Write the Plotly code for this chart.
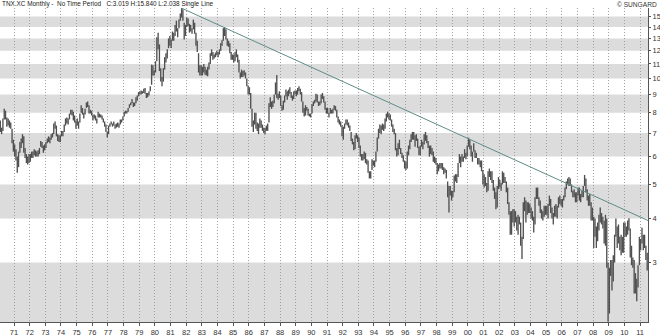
import math
import plotly.graph_objects as go

# ---------------- data (TNX.XC monthly high/low bars, Feb 1970 - Jun 2011) ----------------
start_year = 1970
start_month = 2

bar_low = [
    7.05, 6.95, 7.10, 7.65, 7.65, 7.30, 7.35, 7.25, 7.20, 6.55, 6.20,             # 1970 (Feb-Dec)
    6.00, 5.85, 5.40, 5.60, 6.15, 6.35, 6.55, 6.15, 5.95, 5.75, 5.70, 5.75,       # 1971
    5.80, 5.95, 5.95, 6.05, 6.00, 6.00, 6.00, 6.10, 6.40, 6.35, 6.15, 6.25,       # 1972
    6.35, 6.55, 6.60, 6.55, 6.70, 6.80, 6.95, 7.20, 6.85, 6.65, 6.60, 6.60,       # 1973
    6.85, 6.85, 7.05, 7.35, 7.45, 7.40, 7.65, 7.90, 7.85, 7.60, 7.50, 7.20,       # 1974
    7.35, 7.20, 7.50, 8.00, 7.90, 7.70, 7.90, 8.25, 8.30, 7.95, 7.95, 7.85,       # 1975
    7.60, 7.70, 7.60, 7.45, 7.75, 7.75, 7.75, 7.65, 7.50, 7.30, 7.05, 6.80,       # 1976
    6.95, 7.30, 7.40, 7.30, 7.35, 7.20, 7.25, 7.30, 7.25, 7.40, 7.50, 7.60,       # 1977
    7.80, 7.95, 7.95, 8.05, 8.25, 8.40, 8.50, 8.30, 8.35, 8.50, 8.65, 8.90,       # 1978
    9.00, 9.00, 9.05, 9.10, 9.05, 8.80, 8.85, 8.95, 9.20, 9.60, 10.20, 10.20,     # 1979
    10.40, 11.20, 12.10, 10.50, 9.80, 9.50, 9.80, 10.60, 11.10, 11.40, 12.20, 12.40,   # 1980
    12.20, 12.80, 12.80, 13.20, 13.60, 13.10, 13.90, 14.60, 14.90, 14.60, 12.90, 13.20, # 1981
    14.00, 14.10, 13.50, 13.60, 13.40, 13.80, 13.40, 12.40, 11.90, 10.40, 10.20, 10.20, # 1982
    10.20, 10.40, 10.25, 10.20, 10.15, 10.60, 11.00, 11.60, 11.30, 11.40, 11.50, 11.65, # 1983
    11.50, 11.70, 12.00, 12.40, 12.80, 13.20, 12.90, 12.40, 12.30, 11.80, 11.30, 11.30, # 1984
    11.10, 11.20, 11.50, 11.10, 10.40, 10.00, 10.10, 10.10, 10.20, 10.00, 9.50, 9.00,   # 1985
    9.00, 8.20, 7.30, 7.05, 7.40, 7.20, 7.10, 6.95, 7.25, 7.25, 7.10, 7.00,       # 1986
    6.95, 7.10, 7.10, 7.50, 8.30, 8.20, 8.30, 8.50, 9.00, 8.80, 8.70, 8.80,       # 1987
    8.35, 8.10, 8.15, 8.55, 8.90, 8.70, 8.90, 9.05, 8.80, 8.65, 8.75, 9.00,       # 1988
    8.90, 9.00, 9.20, 9.00, 8.60, 8.00, 7.80, 7.85, 8.10, 7.85, 7.80, 7.75,       # 1989
    7.95, 8.35, 8.50, 8.60, 8.55, 8.35, 8.40, 8.50, 8.75, 8.55, 8.15, 7.95,       # 1990
    7.95, 7.75, 7.95, 7.95, 7.95, 8.15, 8.10, 7.75, 7.50, 7.40, 7.30, 6.85,       # 1991
    6.70, 7.20, 7.40, 7.35, 7.25, 7.10, 6.65, 6.50, 6.25, 6.30, 6.75, 6.60,       # 1992
    6.35, 6.00, 5.85, 5.85, 5.90, 5.75, 5.70, 5.40, 5.20, 5.20, 5.50, 5.65,       # 1993
    5.60, 5.80, 6.20, 6.75, 7.00, 6.95, 7.15, 7.10, 7.20, 7.55, 7.75, 7.65,       # 1994
    7.60, 7.30, 7.05, 6.95, 6.25, 6.00, 6.05, 6.30, 6.10, 5.95, 5.80, 5.55,       # 1995
    5.50, 5.55, 6.05, 6.30, 6.60, 6.70, 6.70, 6.40, 6.65, 6.35, 6.05, 6.05,       # 1996
    6.40, 6.30, 6.50, 6.65, 6.55, 6.35, 6.00, 6.10, 6.05, 5.80, 5.75, 5.70,       # 1997
    5.35, 5.45, 5.55, 5.55, 5.50, 5.35, 5.40, 5.20, 4.60, 4.16, 4.65, 4.50,       # 1998
    4.60, 4.75, 5.10, 5.05, 5.25, 5.75, 5.60, 5.80, 5.80, 5.95, 5.90, 6.00,       # 1999
    6.40, 6.30, 6.00, 5.80, 6.20, 5.95, 5.95, 5.70, 5.70, 5.60, 5.45, 5.00,       # 2000
    4.90, 4.95, 4.75, 4.80, 5.25, 5.15, 5.05, 4.80, 4.55, 4.25, 4.30, 4.85,       # 2001
    4.90, 4.80, 5.00, 5.05, 5.05, 4.75, 4.40, 4.10, 3.60, 3.60, 3.90, 3.80,       # 2002
    3.90, 3.70, 3.60, 3.85, 3.35, 3.07, 3.50, 4.20, 3.90, 4.10, 4.15, 4.15,       # 2003
    4.00, 3.95, 3.65, 3.85, 4.55, 4.55, 4.35, 4.15, 4.00, 3.95, 4.05, 4.10,       # 2004
    4.10, 4.00, 4.35, 4.15, 4.00, 3.85, 4.05, 4.05, 4.00, 4.30, 4.40, 4.35,       # 2005
    4.30, 4.50, 4.60, 4.85, 5.00, 4.95, 4.95, 4.75, 4.60, 4.60, 4.45, 4.45,       # 2006
    4.65, 4.50, 4.45, 4.60, 4.60, 4.95, 4.75, 4.50, 4.35, 4.35, 3.95, 3.95,       # 2007
    3.30, 3.55, 3.30, 3.45, 3.70, 3.90, 3.85, 3.75, 3.40, 3.35, 2.90, 2.038,      # 2008
    2.15, 2.75, 2.50, 2.65, 3.00, 3.55, 3.30, 3.40, 3.25, 3.15, 3.20, 3.20,       # 2009
    3.55, 3.55, 3.60, 3.70, 3.10, 2.95, 2.90, 2.45, 2.45, 2.33, 2.55, 2.95,       # 2010
    3.25, 3.40, 3.25, 3.30, 3.05, 2.85,                                           # 2011 (Jan-Jun)
]

bar_high = [
    7.60, 7.25, 7.70, 8.20, 8.10, 7.75, 7.70, 7.60, 7.50, 7.20, 6.70,             # 1970 (Feb-Dec)
    6.50, 6.30, 6.00, 6.20, 6.60, 6.75, 6.95, 6.85, 6.35, 6.10, 6.00, 6.10,       # 1971
    6.10, 6.20, 6.20, 6.30, 6.25, 6.20, 6.25, 6.35, 6.65, 6.60, 6.45, 6.50,       # 1972
    6.60, 6.75, 6.85, 6.80, 6.95, 7.00, 7.45, 7.55, 7.35, 6.95, 6.90, 6.90,       # 1973
    7.10, 7.10, 7.40, 7.70, 7.75, 7.70, 7.95, 8.15, 8.15, 8.05, 7.85, 7.60,       # 1974
    7.70, 7.55, 7.95, 8.40, 8.25, 8.00, 8.20, 8.55, 8.60, 8.40, 8.15, 8.10,       # 1975
    7.90, 7.90, 7.85, 7.70, 8.05, 7.95, 7.90, 7.85, 7.70, 7.55, 7.40, 7.05,       # 1976
    7.35, 7.45, 7.55, 7.45, 7.55, 7.40, 7.45, 7.50, 7.45, 7.65, 7.65, 7.80,       # 1977
    8.05, 8.10, 8.10, 8.25, 8.45, 8.55, 8.75, 8.55, 8.55, 8.85, 8.95, 9.15,       # 1978
    9.20, 9.25, 9.20, 9.35, 9.40, 9.10, 9.10, 9.20, 9.50, 10.95, 10.90, 10.55,    # 1979
    11.20, 13.10, 13.50, 12.50, 10.70, 10.10, 10.70, 11.50, 11.80, 12.10, 13.00, 13.20, # 1980
    12.90, 13.60, 13.50, 14.20, 14.60, 13.90, 14.70, 15.30, 15.84, 15.70, 14.40, 14.20, # 1981
    14.90, 14.80, 14.30, 14.20, 13.90, 14.70, 14.40, 13.50, 12.80, 11.80, 10.90, 10.90, # 1982
    10.80, 11.00, 10.80, 10.60, 10.80, 11.10, 11.80, 12.10, 11.90, 11.70, 11.85, 12.00, # 1983
    11.90, 12.10, 12.60, 12.85, 13.90, 13.99, 13.80, 13.00, 12.80, 12.60, 11.90, 11.70, # 1984
    11.70, 11.90, 12.10, 11.70, 11.30, 10.40, 10.60, 10.50, 10.55, 10.40, 10.00, 9.55,  # 1985
    9.45, 9.10, 8.20, 7.60, 8.00, 8.00, 7.50, 7.45, 7.70, 7.60, 7.40, 7.25,       # 1986
    7.25, 7.35, 7.45, 8.50, 8.85, 8.60, 8.65, 9.00, 9.75, 10.23, 9.05, 9.20,      # 1987
    8.95, 8.40, 8.65, 8.95, 9.30, 9.20, 9.30, 9.45, 9.15, 8.95, 9.20, 9.25,       # 1988
    9.25, 9.40, 9.50, 9.35, 9.15, 8.60, 8.25, 8.40, 8.30, 8.20, 7.95, 7.95,       # 1989
    8.45, 8.60, 8.70, 9.05, 9.00, 8.60, 8.60, 9.00, 9.10, 8.90, 8.60, 8.25,       # 1990
    8.25, 8.00, 8.25, 8.15, 8.20, 8.40, 8.35, 8.15, 7.80, 7.65, 7.55, 7.35,       # 1991
    7.30, 7.45, 7.65, 7.65, 7.50, 7.35, 7.05, 6.75, 6.60, 6.90, 7.00, 6.90,       # 1992
    6.80, 6.45, 6.10, 6.10, 6.20, 6.15, 5.90, 5.85, 5.45, 5.45, 5.90, 5.85,       # 1993
    5.85, 6.20, 6.80, 7.20, 7.40, 7.35, 7.45, 7.40, 7.70, 7.95, 8.05, 7.95,       # 1994
    7.90, 7.65, 7.40, 7.20, 7.00, 6.35, 6.55, 6.70, 6.35, 6.15, 6.05, 5.85,       # 1995
    5.80, 6.20, 6.45, 6.70, 6.95, 7.05, 7.05, 6.90, 6.95, 6.75, 6.40, 6.45,       # 1996
    6.70, 6.60, 6.95, 7.05, 6.90, 6.65, 6.45, 6.45, 6.35, 6.20, 6.00, 5.95,       # 1997
    5.75, 5.70, 5.75, 5.75, 5.75, 5.60, 5.55, 5.50, 5.10, 4.95, 4.95, 4.80,       # 1998
    4.80, 5.30, 5.35, 5.35, 5.75, 6.10, 6.00, 6.10, 6.00, 6.30, 6.15, 6.45,       # 1999
    6.79, 6.70, 6.45, 6.20, 6.55, 6.25, 6.15, 5.95, 5.95, 5.85, 5.85, 5.50,       # 2000
    5.35, 5.25, 5.05, 5.45, 5.55, 5.45, 5.45, 5.15, 4.90, 4.75, 4.95, 5.25,       # 2001
    5.15, 5.05, 5.45, 5.40, 5.25, 5.10, 4.90, 4.45, 4.20, 4.20, 4.25, 4.25,       # 2002
    4.20, 4.05, 4.10, 4.05, 3.90, 3.55, 4.45, 4.60, 4.50, 4.45, 4.45, 4.40,       # 2003
    4.30, 4.20, 4.05, 4.60, 4.90, 4.90, 4.60, 4.50, 4.25, 4.20, 4.35, 4.35,       # 2004
    4.35, 4.40, 4.65, 4.55, 4.30, 4.15, 4.35, 4.40, 4.35, 4.60, 4.65, 4.55,       # 2005
    4.55, 4.65, 4.90, 5.10, 5.20, 5.25, 5.20, 5.00, 4.80, 4.85, 4.75, 4.75,       # 2006
    4.90, 4.90, 4.70, 4.80, 4.95, 5.32, 5.20, 4.85, 4.65, 4.70, 4.45, 4.30,       # 2007
    4.05, 4.00, 3.80, 3.90, 4.10, 4.30, 4.15, 4.05, 3.95, 4.10, 4.00, 3.00,       # 2008
    2.90, 3.05, 3.05, 3.15, 3.60, 4.00, 3.80, 3.85, 3.55, 3.60, 3.55, 3.90,       # 2009
    3.90, 3.80, 3.95, 4.01, 3.75, 3.35, 3.10, 3.05, 2.80, 2.70, 2.95, 3.55,       # 2010
    3.50, 3.77, 3.60, 3.60, 3.35, 3.20,                                           # 2011 (Jan-Jun)
]

year_ticks = list(range(1971, 2012))
year_labels = [f"{y % 100:02d}" for y in year_ticks]
price_ticks = [3, 4, 5, 6, 7, 8, 9, 10, 11, 12, 13, 14, 15]
band_levels = [(2, 3), (4, 5), (6, 7), (8, 9), (10, 11), (12, 13), (14, 15)]
trend_x = [1981.72, 2011.51]
trend_y = [15.84, 3.95]

title_text = ("TNX.XC Monthly -\u00a0\u00a0No Time Period\u00a0\u00a0\u00a0"
              "C:3.019 H:15.840 L:2.038 Single Line")
credit_text = "\u00a9 SUNGARD"

assert len(bar_low) == len(bar_high)

# ---------------- build figure ----------------
xs, ys = [], []
for i, (lo, hi) in enumerate(zip(bar_low, bar_high)):
    m = start_month - 1 + i
    x = start_year + m / 12 + 1 / 24
    xs += [x, x, None]
    ys += [lo, hi, None]

fig = go.Figure()
fig.add_trace(go.Scatter(x=xs, y=ys, mode="lines",
                         line=dict(color="#505050", width=1.35),
                         hoverinfo="skip", connectgaps=False))
fig.add_trace(go.Scatter(x=trend_x, y=trend_y, mode="lines",
                         line=dict(color="#5f8c89", width=1),
                         hoverinfo="skip", cliponaxis=False))

shapes = []
for lo, hi in band_levels:
    shapes.append(dict(type="rect", xref="paper", yref="y", x0=0, x1=1,
                       y0=lo, y1=hi, fillcolor="#dcdcdc",
                       line=dict(width=0), layer="below"))

W, H = 660, 336
ml, mr, mt, mb = 0, 12, 8, 14
plot_h = H - mt - mb
plot_w = W - ml - mr

tick_font = dict(family="Liberation Sans, Arial, sans-serif", size=7.5, color="#333333")

fig.update_layout(
    width=W, height=H,
    margin=dict(l=ml, r=mr, t=mt, b=mb, pad=0),
    paper_bgcolor="white", plot_bgcolor="white",
    showlegend=False, hovermode=False,
    shapes=shapes,
    xaxis=dict(range=[1970.105, 2011.51], tickmode="array",
               tickvals=year_ticks, ticktext=year_labels,
               showgrid=True, gridcolor="#a0a0a0", gridwidth=1, griddash="1px,2px",
               showline=True, linecolor="#555555", linewidth=1,
               ticks="outside", ticklen=3, tickcolor="#555555",
               tickfont=tick_font, zeroline=False, fixedrange=True),
    yaxis=dict(type="log", side="right",
               range=[math.log10(2.034), math.log10(15.86)],
               tickmode="array", tickvals=price_ticks,
               ticktext=[str(v) for v in price_ticks],
               showgrid=False, showline=True, linecolor="#555555", linewidth=1,
               ticks="outside", ticklen=2, tickcolor="#555555",
               tickfont=tick_font, zeroline=False, fixedrange=True),
    annotations=[
        dict(text=title_text, xref="paper", yref="paper",
             x=0.0, y=1 + 4 / plot_h, xanchor="left", yanchor="middle",
             showarrow=False,
             font=dict(family="Liberation Sans, Arial, sans-serif", size=6.4, color="#222222")),
        dict(text=credit_text, xref="paper", yref="paper",
             x=1 + 11 / plot_w, y=1 + 4 / plot_h, xanchor="right", yanchor="middle",
             showarrow=False,
             font=dict(family="Liberation Sans, Arial, sans-serif", size=6.6, color="#333333")),
    ],
)

fig.write_html("out.html")
